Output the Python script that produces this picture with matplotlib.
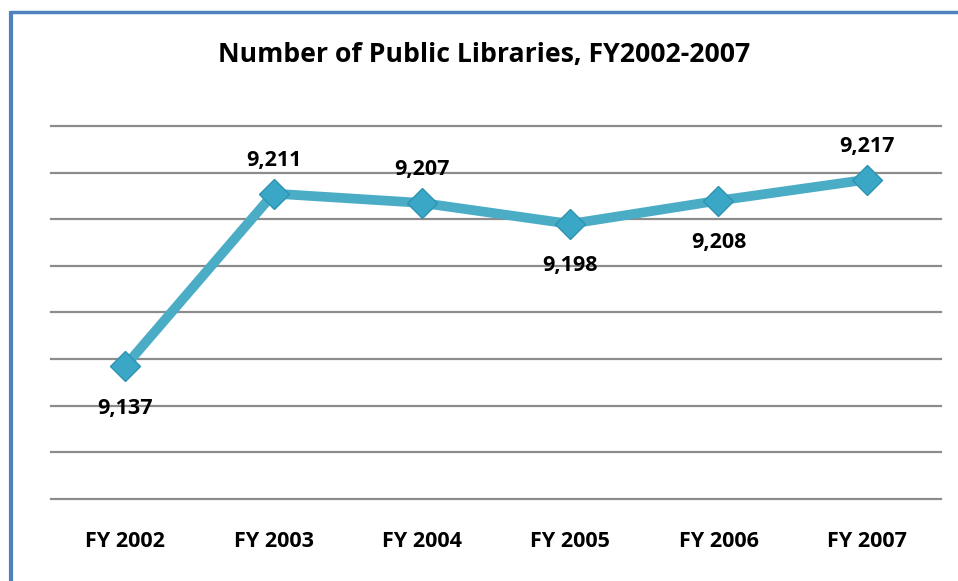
import matplotlib
matplotlib.use('Agg')
import matplotlib.pyplot as plt
from matplotlib.lines import Line2D

# ── data ──
years = ['FY 2002', 'FY 2003', 'FY 2004', 'FY 2005', 'FY 2006', 'FY 2007']
libraries = [9137, 9211, 9207, 9198, 9208, 9217]
label_above = [False, True, True, False, False, True]

W, H = 958, 581
plt.rcParams['font.family'] = ['Open Sans', 'DejaVu Sans']
fig = plt.figure(figsize=(W / 100, H / 100), dpi=100)

# plot area in pixels: x 51..941, y 126..499
ax = fig.add_axes([51 / W, 1 - 499 / H, 890 / W, 373 / H])
ax.set_xlim(-0.5, len(years) - 0.5)
ax.set_ylim(9080, 9240)
ax.set_yticks(range(9080, 9241, 20))
ax.yaxis.grid(True, color='#8c8c8c', lw=1.6)
for gl in ax.get_ygridlines():
    gl.set_clip_on(False)
ax.set_axisbelow(True)
for s in ax.spines.values():
    s.set_visible(False)
ax.tick_params(axis='y', left=False, labelleft=False)
ax.tick_params(axis='x', length=0, pad=23)
ax.set_xticks(range(len(years)))
ax.set_xticklabels(years, fontsize=15.5, fontweight='bold')

xs = list(range(len(years)))
ax.plot(xs, libraries, color='#4bacc6', lw=7, marker='D', ms=15,
        mfc='#3aa7c6', mec='#2e93b0', mew=1, solid_joinstyle='round',
        clip_on=False, zorder=3)

for x, v, up in zip(xs, libraries, label_above):
    off = 33 if up else -42
    ax.annotate(f'{v:,}', (x, v), xytext=(0, off * 0.72), textcoords='offset points',
                ha='center', va='center', fontsize=15.5, fontweight='bold', color='black')

fig.text(484 / W, 1 - 55 / H, 'Number of Public Libraries, FY2002-2007',
         ha='center', va='center', fontsize=19.2, fontweight='bold')

# blue frame (top and left edges)
blue = '#4f81bd'
fig.add_artist(Line2D([11 / W, 11 / W], [1 - 11 / H, 0], transform=fig.transFigure,
                      color=blue, lw=3, solid_capstyle='butt'))
fig.add_artist(Line2D([9.5 / W, 1], [1 - 11.5 / H, 1 - 11.5 / H], transform=fig.transFigure,
                      color=blue, lw=2.5, solid_capstyle='butt'))

fig.savefig('out.png', dpi=100, facecolor='white')
